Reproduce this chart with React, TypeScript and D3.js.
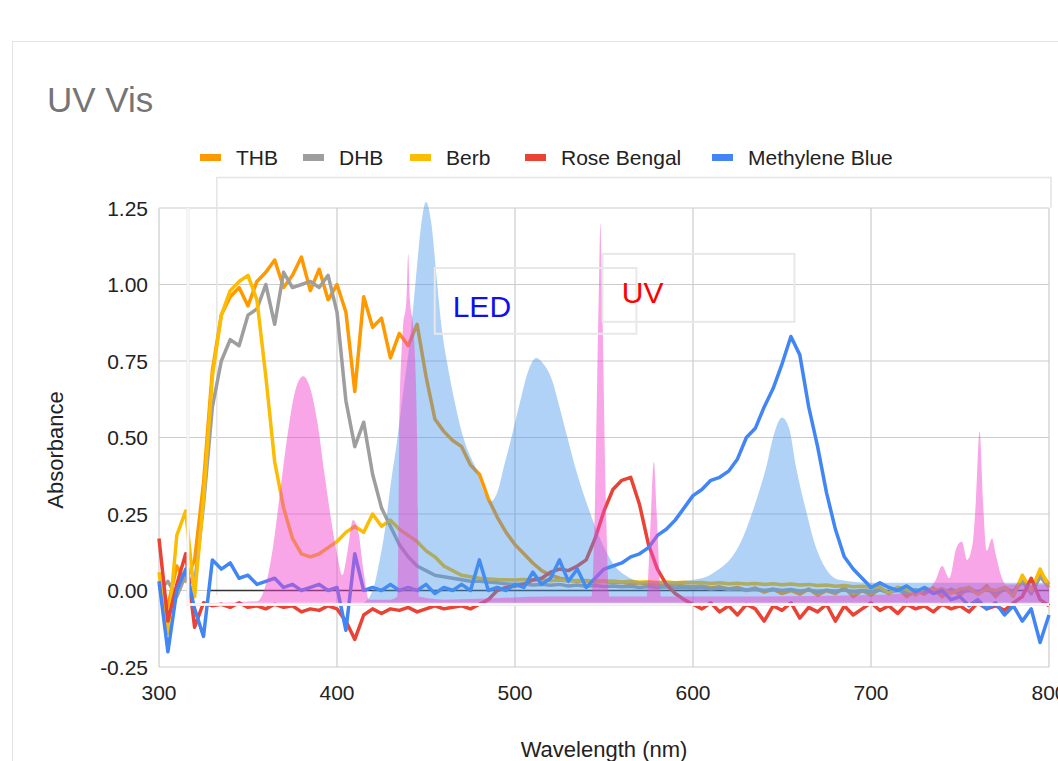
import React from 'react';
import * as d3 from 'd3';

// x grid shared by the five measured spectra (nm)
const WAVELENGTHS = d3.range(300, 801, 5);

const THB = [
  0.02, -0.05, 0.08, 0.03, 0.1, 0.35, 0.72, 0.9, 0.96, 0.99,
  0.93, 1.01, 1.04, 1.08, 0.99, 1.03, 1.09, 0.98, 1.05, 0.95,
  1.0, 0.91, 0.65, 0.96, 0.86, 0.89, 0.76, 0.84, 0.8, 0.87,
  0.7, 0.56, 0.52, 0.49, 0.47, 0.41, 0.38, 0.3, 0.24, 0.19,
  0.15, 0.12, 0.09, 0.065, 0.05, 0.04, 0.035, 0.03, 0.033, 0.028,
  0.03, 0.025, 0.027, 0.022, 0.025, 0.02, 0.022, 0.018, 0.02, 0.015,
  0.012, 0.015, 0.008, 0.012, 0.005, 0.01, 0.0, 0.008, -0.005, 0.004,
  -0.01, 0.0, -0.012, 0.005, -0.015, 0.0, -0.01, 0.01, -0.02, 0.0,
  -0.015, 0.005, -0.01, 0.01, -0.02, 0.0, -0.012, 0.008, -0.02, 0.005,
  -0.015, 0.01, -0.01, 0.015, -0.02, 0.01, -0.005, 0.04, -0.01, 0.06,
  0.02,
];

const DHB = [
  0.0, 0.03, -0.02, 0.05, 0.02, 0.28, 0.6, 0.75, 0.82, 0.8,
  0.9, 0.92, 1.0, 0.87, 1.04, 0.99, 1.0, 1.01, 0.99, 1.03,
  0.91, 0.62, 0.47, 0.55, 0.38, 0.27, 0.21, 0.15, 0.11, 0.08,
  0.065, 0.05, 0.045, 0.04, 0.035, 0.03, 0.03, 0.028, 0.025, 0.022,
  0.02, 0.022, 0.018, 0.02, 0.017, 0.02, 0.015, 0.018, 0.014, 0.016,
  0.013, 0.015, 0.012, 0.014, 0.01, 0.013, 0.01, 0.012, 0.008, 0.01,
  0.007, 0.01, 0.005, 0.008, 0.004, 0.006, 0.002, 0.005, 0.0, 0.004,
  0.0, 0.003, -0.002, 0.002, -0.004, 0.001, -0.003, 0.002, -0.005, 0.0,
  -0.004, 0.002, -0.006, 0.001, -0.005, 0.003, -0.006, 0.0, -0.004, 0.002,
  -0.006, 0.0, -0.005, 0.003, -0.008, 0.002, -0.004, 0.03, -0.01, 0.045,
  0.01,
];

const BERB = [
  0.06, -0.14, 0.18, 0.26, -0.02, 0.3, 0.7, 0.9, 0.98, 1.01,
  1.03, 0.95, 0.7, 0.42, 0.27, 0.17, 0.12, 0.11, 0.12, 0.14,
  0.16, 0.19, 0.21, 0.19, 0.25, 0.21, 0.23, 0.2, 0.18, 0.16,
  0.13, 0.11, 0.08, 0.065, 0.05, 0.045, 0.04, 0.038, 0.036, 0.035,
  0.034, 0.036, 0.033, 0.035, 0.032, 0.034, 0.031, 0.033, 0.03, 0.032,
  0.03, 0.031, 0.028, 0.03, 0.027, 0.029, 0.026, 0.028, 0.025, 0.027,
  0.025, 0.026, 0.023, 0.025, 0.022, 0.024, 0.021, 0.023, 0.02, 0.022,
  0.019, 0.021, 0.018, 0.02, 0.016, 0.018, 0.014, 0.016, 0.012, 0.014,
  0.01, 0.012, -0.01, 0.01, 0.005, -0.015, 0.008, 0.0, 0.006, -0.01,
  0.005, 0.008, -0.012, 0.006, 0.0, 0.01, -0.02, 0.05, 0.0, 0.07,
  0.01,
];

const ROSE_BENGAL = [
  0.17, -0.1, 0.02, 0.12, -0.12, -0.04, -0.05, -0.045, -0.055, -0.04,
  -0.055, -0.05, -0.06, -0.045, -0.055, -0.05, -0.07, -0.06, -0.065, -0.05,
  -0.06, -0.1, -0.16, -0.08, -0.06, -0.075, -0.06, -0.065, -0.055, -0.07,
  -0.06, -0.05, -0.06, -0.055, -0.05, -0.06, -0.045, -0.03, 0.0, 0.01,
  0.015, 0.02, 0.035, 0.04, 0.06, 0.07, 0.065, 0.08, 0.1, 0.17,
  0.26, 0.33, 0.36, 0.37, 0.28, 0.15, 0.07, 0.02, -0.01, -0.03,
  -0.045, -0.06, -0.04, -0.07, -0.05, -0.08, -0.045, -0.06, -0.1, -0.05,
  -0.065, -0.04, -0.09, -0.055, -0.07, -0.045, -0.1, -0.05, -0.08, -0.06,
  -0.04, -0.065, -0.05, -0.075, -0.045, -0.06, -0.05, -0.07, -0.045, -0.06,
  -0.05, -0.07, -0.04, -0.06, -0.05, -0.065, -0.04, -0.02, 0.04, -0.03,
  -0.05,
];

const METHYLENE_BLUE = [
  0.03, -0.2, 0.0, 0.07, -0.06, -0.15, 0.1, 0.07, 0.09, 0.04,
  0.05, 0.02, 0.03, 0.04, 0.01, 0.02, 0.0, 0.01, 0.02, 0.0,
  0.01, -0.13, 0.12, 0.0, 0.01, 0.0, 0.02, 0.0, 0.01, 0.0,
  0.02, -0.01, 0.01, 0.0, 0.02, 0.0, 0.1, 0.0, 0.01, 0.0,
  0.02, 0.01, 0.06, 0.02, 0.04, 0.1, 0.03, 0.07, 0.01, 0.04,
  0.07, 0.08, 0.09, 0.11, 0.12, 0.14, 0.18, 0.2, 0.23, 0.27,
  0.31, 0.33, 0.36, 0.37, 0.39, 0.43, 0.5, 0.53, 0.6, 0.66,
  0.74, 0.83, 0.77, 0.6, 0.47, 0.32, 0.2, 0.11, 0.07, 0.04,
  0.01, 0.025, 0.01, 0.0, 0.015, -0.005, 0.01, -0.01, 0.0, -0.03,
  -0.02, -0.05, -0.03, -0.06, -0.04, -0.08, -0.05, -0.1, -0.06, -0.17,
  -0.08,
];

const SERIES = [
  { name: 'THB', color: '#FF9900', values: THB },
  { name: 'DHB', color: '#9E9E9E', values: DHB },
  { name: 'Berb', color: '#FBBC04', values: BERB },
  { name: 'Rose Bengal', color: '#EA4335', values: ROSE_BENGAL },
  { name: 'Methylene Blue', color: '#4285F4', values: METHYLENE_BLUE },
];

// pasted-in lamp spectra (UV lamp in pink, LED in light blue)
const UV_WL = [
  330, 355, 360, 364, 368, 372, 376, 381, 385, 389,
  393, 397, 400, 403, 406, 409, 412, 415, 418, 430,
  434, 435, 437, 439, 440, 441, 443, 445, 446, 460,
  520, 543, 545, 547, 548, 549, 551, 553, 574, 576,
  578, 580, 582, 620, 700, 730, 736, 740, 744, 748,
  751, 754, 757, 759, 761, 763, 765, 768, 770, 773,
  776, 790, 800,
];
const UV_ABS = [
  -0.04, -0.035, 0.02, 0.14, 0.32, 0.5, 0.64, 0.7, 0.66, 0.55,
  0.38, 0.22, 0.12, 0.05, 0.13, 0.23, 0.19, 0.06, -0.03, -0.03,
  -0.02, 0.5, 0.85, 0.95, 1.1, 0.95, 0.85, 0.5, -0.02, -0.03,
  -0.02, -0.02, 0.3, 0.95, 1.2, 0.95, 0.3, -0.02, -0.02, 0.2,
  0.42, 0.2, -0.02, -0.02, -0.015, 0.0, 0.03, 0.08, 0.04, 0.14,
  0.16, 0.1, 0.15, 0.3, 0.52, 0.28, 0.13, 0.17, 0.12, 0.05,
  0.02, 0.02, 0.02,
];

const LED_WL = [
  415, 420, 424, 427, 430, 434, 437, 441, 444, 447,
  450, 453, 456, 459, 462, 466, 470, 474, 478, 482,
  486, 490, 494, 498, 503, 507, 512, 516, 520, 525,
  529, 535, 540, 545, 551, 556, 562, 570, 590, 605,
  612, 617, 622, 627, 633, 638, 641, 645, 650, 654,
  658, 661, 664, 668, 672, 676, 682, 700, 800,
];
const LED_ABS = [
  -0.04, 0.0, 0.1, 0.2, 0.34, 0.5, 0.64, 0.82, 1.0, 1.18,
  1.27, 1.2, 1.02, 0.85, 0.74, 0.62, 0.52, 0.45, 0.4, 0.33,
  0.29, 0.32, 0.41, 0.5, 0.62, 0.71, 0.76, 0.74, 0.7, 0.6,
  0.51, 0.38, 0.29, 0.21, 0.13, 0.08, 0.05, 0.03, 0.03, 0.04,
  0.06, 0.08, 0.11, 0.16, 0.25, 0.34, 0.4, 0.5, 0.565, 0.53,
  0.4, 0.32, 0.25, 0.16, 0.1, 0.06, 0.035, 0.025, 0.025,
];

const X_TICKS = [300, 400, 500, 600, 700, 800];
const Y_TICKS = [-0.25, 0, 0.25, 0.5, 0.75, 1, 1.25];
const LEGEND_X = [200, 303, 410, 525, 712];

const FONT = "Arial, 'Liberation Sans', sans-serif";

export default function App() {
  const width = 1058, height = 761;
  const x = d3.scaleLinear().domain([300, 800]).range([159, 1049]);
  const y = d3.scaleLinear().domain([-0.25, 1.25]).range([667, 208]);
  const fmt = (t: number) => t.toFixed(2);

  const line = d3.line<number>()
    .x((d, i) => x(WAVELENGTHS[i]))
    .y(d => y(d));

  const overlayBase = -0.04;
  const area = (wl: number[]) => d3.area<number>()
    .x((d, i) => x(wl[i]))
    .y0(y(overlayBase))
    .y1(d => y(d))
    .curve(d3.curveMonotoneX);

  const svgStyle: React.CSSProperties = { position: 'absolute', left: 0, top: 0, background: '#fff' };

  return (
    <svg width={width} height={height} style={svgStyle} fontFamily={FONT}>
      {/* card */}
      <rect x={12.5} y={41.5} width={1100} height={800} fill="#fff" stroke="#e3e3e3" />
      <text x={47} y={112} fontSize={35} fill="#757575">UV Vis</text>

      {/* legend */}
      {SERIES.map((s, i) => (
        <g key={s.name}>
          <rect x={LEGEND_X[i]} y={154} width={21} height={7} fill={s.color} />
          <text x={LEGEND_X[i] + 36} y={165} fontSize={21} fill="#222">{s.name}</text>
        </g>
      ))}

      {/* grid */}
      {Y_TICKS.map(t => (
        <line key={'gy' + t} x1={x(300)} x2={x(800)} y1={y(t)} y2={y(t)} stroke="#cccccc" strokeWidth={1.2} />
      ))}
      {X_TICKS.map(t => (
        <line key={'gx' + t} x1={x(t)} x2={x(t)} y1={y(1.25)} y2={y(-0.25)} stroke="#cccccc" strokeWidth={1.2} />
      ))}

      {/* outer frame of the pasted spectrum picture */}
      <path d={`M${x(332.5)},${y(-0.015)}V${y(1.35)}H${x(800) + 2}V${y(1.25)}`} fill="none" stroke="#e4e4e4" strokeWidth={1.5} />

      {/* axis labels */}
      {Y_TICKS.map(t => (
        <text key={'ly' + t} x={148} y={y(t) + 7.5} fontSize={21} fill="#222" textAnchor="end">{fmt(t)}</text>
      ))}
      {X_TICKS.map(t => (
        <text key={'lx' + t} x={x(t)} y={700} fontSize={21} fill="#222" textAnchor="middle">{t}</text>
      ))}
      <text x={604} y={757} fontSize={22} fill="#222" textAnchor="middle">Wavelength (nm)</text>
      <text transform={`translate(63,450) rotate(-90)`} fontSize={22} fill="#222" textAnchor="middle">Absorbance</text>

      {/* baseline */}
      <line x1={x(327)} x2={x(800)} y1={y(0)} y2={y(0)} stroke="#333" strokeWidth={1.5} />

      {/* series */}
      {SERIES.map(s => (
        <path key={s.name} d={line(s.values) || ''} fill="none" stroke={s.color} strokeWidth={3.5} strokeLinejoin="round" />
      ))}

      {/* lamp spectra overlay */}
      <path d={area(LED_WL)(LED_ABS) || ''} fill="rgb(70,150,235)" fillOpacity={0.43} />
      <path d={area(UV_WL)(UV_ABS) || ''} fill="rgb(240,70,205)" fillOpacity={0.48} />

      {/* inner frame of the picture */}
      <path d={`M${x(316.3)},${y(1.25)}V${y(-0.046)}H${x(800)}`} fill="none" stroke="#e6e6e6" strokeWidth={3} />
      <path d={`M${x(316.3)},${y(1.25)}V${y(-0.046)}H${x(800)}`} fill="none" stroke="#fbfbfb" strokeWidth={1.5} />

      {/* annotations */}
      <rect x={x(454.9)} y={y(1.054)} width={x(568.2) - x(454.9)} height={y(0.839) - y(1.054)} fill="none" stroke="#e8e8e8" strokeWidth={2} />
      <rect x={x(549.2)} y={y(1.1)} width={x(657) - x(549.2)} height={y(0.878) - y(1.1)} fill="none" stroke="#e8e8e8" strokeWidth={2} />
      <text x={x(465)} y={y(0.894)} fontSize={30} fill="#1010ee">LED</text>
      <text x={x(560)} y={y(0.94)} fontSize={30} fill="#ff0000">UV</text>
    </svg>
  );
}
